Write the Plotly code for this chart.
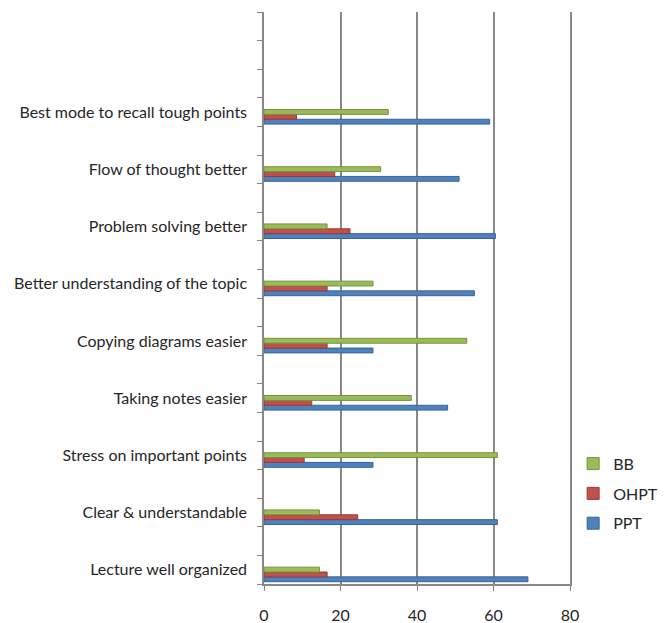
import plotly.graph_objects as go

# Survey items (bottom to top) and the percentage preferring each teaching aid
categories = [
    "Lecture well organized",
    "Clear & understandable",
    "Stress on important points",
    "Taking notes easier",
    "Copying diagrams easier",
    "Better understanding of the topic",
    "Problem solving better",
    "Flow of thought better",
    "Best mode to recall tough points",
]
ppt = [69, 61, 28.5, 48, 28.5, 55, 60.5, 51, 59]
ohpt = [16.5, 24.5, 10.5, 12.5, 16.5, 16.5, 22.5, 18.5, 8.5]
bb = [14.5, 14.5, 61, 38.5, 53, 28.5, 16.5, 30.5, 32.5]

x_ticks = [0, 20, 40, 60, 80]

# each item occupies every second slot on a 20-slot category axis
slots = [2 * i for i in range(len(categories))]
n_slots = 20

# (name, values, fill, edge, bar offset, legend rank)
series = [
    ("PPT", ppt, "#4F81BD", "#3A6496", -0.42, 3),
    ("OHPT", ohpt, "#C0504D", "#963C3A", -0.25, 2),
    ("BB", bb, "#9BBB59", "#76923C", -0.08, 1),
]

fig = go.Figure()
for name, vals, color, edge, off, rank in series:
    fig.add_trace(go.Bar(
        x=vals, y=slots, orientation="h", name=name,
        marker=dict(color=color, line=dict(color=edge, width=1)),
        width=0.17, offset=off, legendgroup=name, legendrank=rank,
    ))

font_family = "Lato, 'Open Sans', sans-serif"
axis_grey = "#878787"

fig.update_layout(
    width=668, height=623,
    barmode="overlay",
    plot_bgcolor="white", paper_bgcolor="white",
    margin=dict(l=264, r=98, t=12, b=39),
    font=dict(family=font_family, size=16, color="#262626"),
    showlegend=True,
    legend=dict(
        xref="container", yref="container",
        x=0.858, y=0.283, xanchor="left", yanchor="top",
        traceorder="grouped", tracegroupgap=6,
        bgcolor="rgba(0,0,0,0)",
        font=dict(size=16, color="#262626"),
        itemwidth=30,
    ),
    xaxis=dict(
        range=[0, 80], tickvals=x_ticks, ticktext=[str(v) for v in x_ticks],
        showgrid=True, gridcolor=axis_grey, gridwidth=1.8,
        showline=True, linecolor=axis_grey, linewidth=1.5,
        ticks="outside", ticklen=5, tickcolor=axis_grey,
        ticklabelstandoff=11, zeroline=False, automargin=False,
        tickfont=dict(size=16, color="#262626"),
    ),
    yaxis=dict(
        range=[-0.5, n_slots - 0.5],
        tickvals=slots, ticktext=categories,
        ticks="", ticklen=0,
        showline=True, linecolor=axis_grey, linewidth=1.5, mirror=True,
        showgrid=False, zeroline=False, automargin=False,
        ticklabelstandoff=12,
        tickfont=dict(size=16, color="#262626"),
        minor=dict(
            tickvals=[k - 0.5 for k in range(n_slots + 1)],
            ticks="outside", ticklen=5, tickcolor=axis_grey, showgrid=False,
        ),
    ),
)

fig.write_html("out.html")
